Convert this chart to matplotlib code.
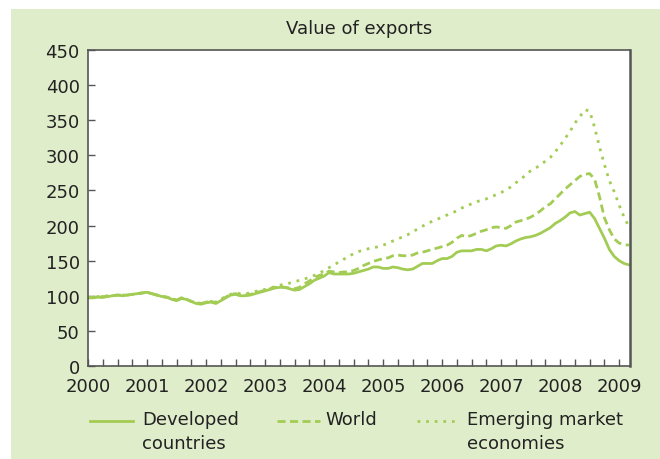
import numpy as np
import matplotlib
matplotlib.use('Agg')
import matplotlib.pyplot as plt
from matplotlib.patches import Rectangle
from matplotlib.lines import Line2D

plt.rcParams['font.family'] = ['DejaVu Sans']

# monthly index values, Jan 2000 .. Mar 2009
developed = [97, 97, 98, 97.5, 99, 100, 101, 100, 101, 102, 103, 104,
             105, 103, 101, 99, 98, 95, 93, 96, 95, 92, 89, 88,
             90, 91, 89, 93, 97, 101, 102, 100, 100, 101, 103, 105,
             107, 109, 111, 112, 112, 110, 108, 109, 113, 117, 122, 125,
             128, 133, 131, 131, 131, 131, 132, 134, 136, 138, 141, 141,
             139, 139, 141, 140, 138, 137, 138, 142, 146, 146, 146, 150,
             153, 153, 156, 162, 164, 164, 164, 166, 166, 164, 167, 171,
             172, 171, 174, 178, 181, 183, 184, 186, 189, 193, 197, 203,
             207, 212, 218, 220, 215, 217, 219, 210, 196, 182, 166, 156,
             150, 146, 144]
world = [97, 98, 98, 99, 99, 100, 101, 101, 101, 102, 103, 104,
         105, 103, 101, 99, 98, 96, 94, 97, 95, 92, 90, 89,
         91, 92, 90, 94, 98, 102, 103, 101, 101, 102, 104, 106,
         108, 110, 112, 113, 112, 111, 110, 112, 117, 121, 126, 129,
         131, 135, 134, 133, 134, 134, 136, 139, 143, 146, 149, 151,
         153, 154, 157, 158, 157, 157, 158, 161, 162, 164, 166, 168,
         170, 172, 176, 182, 186, 184, 186, 189, 192, 194, 197, 198,
         197, 196, 200, 205, 207, 209, 212, 216, 221, 227, 231, 238,
         245, 252, 258, 264, 270, 273, 274, 266, 241, 211, 194, 181,
         175, 173, 172]
emerging = [98, 98, 99, 99, 100, 100, 101, 101, 101, 102, 103, 104,
            105, 103, 101, 99, 98, 96, 94, 97, 95, 92, 90, 89,
            91, 92, 91, 95, 99, 102, 104, 103, 103, 104, 106, 108,
            109, 111, 113, 115, 117, 118, 120, 122, 124, 126, 129, 132,
            136, 140, 144, 148, 152, 156, 160, 163, 165, 167, 168, 170,
            172, 175, 178, 181, 184, 187, 191, 195, 199, 203, 206, 209,
            212, 215, 218, 221, 225, 228, 231, 234, 236, 238, 241, 244,
            247, 251, 255, 261, 266, 272, 278, 282, 286, 292, 297, 305,
            314, 324, 334, 346, 355, 365, 363, 340, 312, 287, 264, 248,
            229, 212, 198]
years = list(range(2000, 2010))
yticks = [0, 50, 100, 150, 200, 250, 300, 350, 400, 450]
labels = ['Developed\ncountries', 'World', 'Emerging market\neconomies']

t = 2000 + np.arange(len(developed)) / 12

green = '#a3cc55'
panel = '#dfedcb'
spine = '#555555'
txt = '#222222'
styles = [dict(linestyle='-'), dict(dashes=(2.9, 1.6)), dict(dashes=(1.0, 2.1))]

W, H = 660, 460
fig = plt.figure(figsize=(W / 100, H / 100), dpi=100)
fig.patches.append(Rectangle((11 / W, 0), 1, 450 / H, transform=fig.transFigure,
                             facecolor=panel, edgecolor='none', zorder=-10))

ax = fig.add_axes([88 / W, 93 / H, 542 / W, 316 / H])
for series, st in zip([developed, world, emerging], styles):
    ax.plot(t, series, color=green, lw=2.0, **st)

ax.set_xlim(2000, 2009 + 2.2 / 12)
ax.set_ylim(0, 450)
ax.set_yticks(yticks)
ax.set_xticks(years)
ax.set_xticks(np.arange(2000, 2009.2, 0.25), minor=True)
ax.tick_params(axis='both', which='both', direction='in', length=5, width=1,
               color=spine, labelsize=13, labelcolor=txt)
ax.tick_params(axis='x', which='major', pad=8)
ax.tick_params(axis='y', pad=6)
ax.tick_params(axis='x', which='minor', labelbottom=False)
for s in ax.spines.values():
    s.set_color(spine)
    s.set_linewidth(1.2)
ax.spines['right'].set_linewidth(1.8)

ax.set_title('Value of exports', fontsize=13, color=txt, pad=12)

# legend drawn by hand so the sample lines sit on the first text line
handle_x = [90, 277, 417]
text_x = [142, 325, 467]
for hx, tx, lab, st in zip(handle_x, text_x, labels, styles):
    fig.add_artist(Line2D([hx / W, (hx + 43) / W], [1 - 422 / H] * 2,
                          transform=fig.transFigure, color=green, lw=2.0, **st))
    fig.text(tx / W, 1 - 411 / H, lab, fontsize=13, color=txt, ha='left',
             va='top', linespacing=1.45)

fig.savefig('out.png', dpi=100)
